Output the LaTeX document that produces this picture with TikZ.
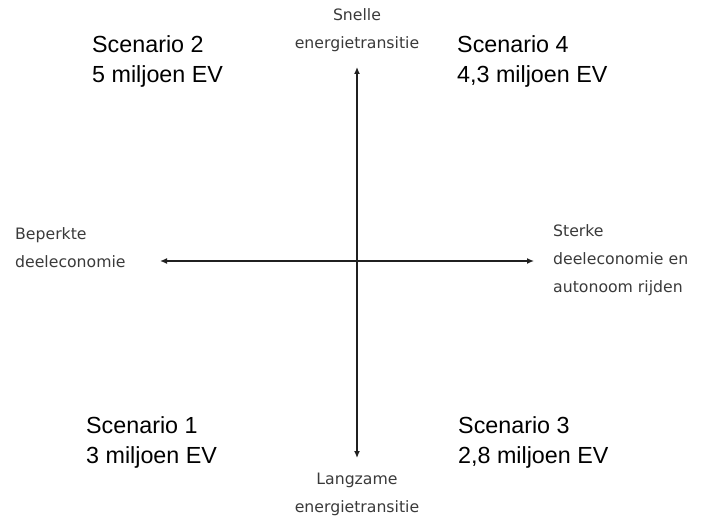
\documentclass[tikz,border=0pt]{standalone}
\usepackage{fontspec}
\setmainfont{Liberation Sans}
\newfontfamily\axisfont{DejaVu Sans}
\usetikzlibrary{arrows.meta}
\definecolor{axistext}{HTML}{3A3A3A}
\definecolor{axisline}{HTML}{202020}
\tikzset{
  axisarrow/.style={axisline, line width=1.3pt, {Latex[length=7pt,width=6pt]}-{Latex[length=7pt,width=6pt]}},
  axislabel/.style={inner sep=0pt, text=axistext, font=\axisfont\fontsize{15.7}{28}\selectfont},
  scenlabel/.style={inner sep=0pt, anchor=base west, align=left, text=black, font=\fontsize{23.3}{30}\selectfont},
}
\begin{document}
\begin{tikzpicture}[x=1pt, y=-1pt]
  \useasboundingbox (0,0) rectangle (708,521);

  % axis end points
  \coordinate (top) at (357,67);
  \coordinate (bottom) at (357,458);
  \coordinate (left) at (160,261);
  \coordinate (right) at (534,261);

  \draw[axisarrow] (bottom) -- (top);
  \draw[axisarrow] (left) -- (right);

  % axis labels (anchored on the baseline of the last line)
  \node[axislabel, anchor=base, align=center] (snel) at (357,49) {Snelle\\energietransitie};
  \node[axislabel, anchor=base, align=center] (langzaam) at (357,512) {Langzame\\energietransitie};
  \node[axislabel, anchor=base west, align=left] (beperkt) at (15,267) {Beperkte\\deeleconomie};
  \node[axislabel, anchor=base west, align=left] (sterk) at (553,292) {Sterke\\deeleconomie en\\autonoom rijden};

  % scenarios
  \node[scenlabel] (s2) at (92,83) {Scenario 2\\5 miljoen EV};
  \node[scenlabel] (s4) at (457,83) {Scenario 4\\4,3 miljoen EV};
  \node[scenlabel] (s1) at (86,463) {Scenario 1\\3 miljoen EV};
  \node[scenlabel] (s3) at (458,463) {Scenario 3\\2,8 miljoen EV};
\end{tikzpicture}
\end{document}
